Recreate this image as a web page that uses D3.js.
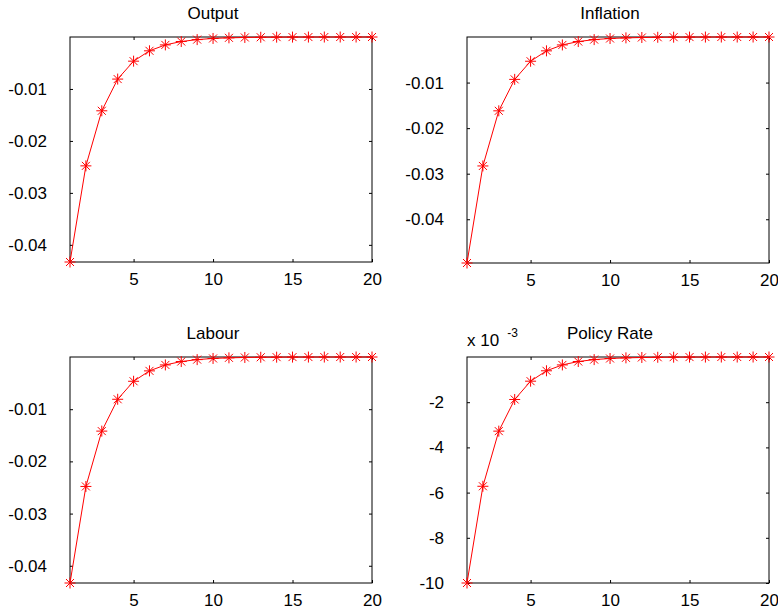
<!DOCTYPE html>
<html>
<head>
<meta charset="utf-8">
<script src="https://cdn.jsdelivr.net/npm/d3@7"></script>
<style>
  body { margin: 0; background: #fff; }
  text { font-family: "Liberation Sans", Arial, sans-serif; }
</style>
</head>
<body>
<svg width="778" height="615"></svg>
<script>
// impulse responses
const periods = [1, 2, 3, 4, 5, 6, 7, 8, 9, 10, 11, 12, 13, 14, 15, 16, 17, 18, 19, 20]
const output = [-0.0433, -0.0248, -0.0142, -0.0081, -0.00465, -0.00266, -0.00152, -0.00087, -0.0005, -0.00028,
    -0.00016, -0.00009, -0.00005, -0.00003, -0.000017, -0.00001, -0.000006, -0.000003, -0.000002, -0.000001]
const inflation = [-0.0496, -0.0283, -0.0162, -0.0093, -0.00532, -0.00304, -0.00174, -0.001, -0.00057, -0.00033,
    -0.00019, -0.00011, -0.00006, -0.000035, -0.00002, -0.000011, -0.000006, -0.000004, -0.000002, -0.000001]
const labour = [-0.0433, -0.0248, -0.0142, -0.0081, -0.00465, -0.00266, -0.00152, -0.00087, -0.0005, -0.00028,
    -0.00016, -0.00009, -0.00005, -0.00003, -0.000017, -0.00001, -0.000006, -0.000003, -0.000002, -0.000001]
const policyRate = [-0.01, -0.00572, -0.00328, -0.00188, -0.00107, -0.00061, -0.00035, -0.0002, -0.000115, -0.000066,
    -0.000038, -0.000022, -0.000012, -0.000007, -0.000004, -0.0000023, -0.0000013, -0.0000008, -0.0000004, -0.0000002]

const titles = ['Output', 'Inflation', 'Labour', 'Policy Rate']
const xTicks = [5, 10, 15, 20]
const yTicksOutput = [-0.04, -0.03, -0.02, -0.01]
const yTicksInflation = [-0.04, -0.03, -0.02, -0.01]
const yTicksLabour = [-0.04, -0.03, -0.02, -0.01]
const yTicksPolicy = [-0.01, -0.008, -0.006, -0.004, -0.002]

const svg = d3.select('svg')
const fontSize = 17

const panels = [
    { series: output, title: titles[0], ticks: yTicksOutput, fmt: d => d.toFixed(2), x0: 70, x1: 372, y0: 37, y1: 262 },
    { series: inflation, title: titles[1], ticks: yTicksInflation, fmt: d => d.toFixed(2), x0: 467, x1: 769, y0: 37, y1: 263 },
    { series: labour, title: titles[2], ticks: yTicksLabour, fmt: d => d.toFixed(2), x0: 70, x1: 372, y0: 357, y1: 583 },
    { series: policyRate, title: titles[3], ticks: yTicksPolicy, fmt: d => String(Math.round(d * 1000)), x0: 467, x1: 769, y0: 357, y1: 583, exp: true }
]

const star = 'M-5.5,0H5.5M0,-5.5V5.5M-4,-4L4,4M-4,4L4,-4'

const drawPanel = (p) => {
    const w = p.x1 - p.x0, h = p.y1 - p.y0
    const g = svg.append('g').attr('transform', `translate(${p.x0},${p.y0})`)

    const x = d3.scaleLinear().domain([1, 20]).range([0, w])
    const y = d3.scaleLinear().domain([d3.min(p.series), 0]).range([h, 0])

    g.append('rect')
        .attr('width', w).attr('height', h)
        .attr('fill', 'none').attr('stroke', '#000').attr('stroke-width', 1)

    const styleAxis = (sel) => {
        sel.select('.domain').remove()
        sel.selectAll('line').attr('stroke', '#000')
        sel.selectAll('text').attr('font-size', fontSize).attr('font-family', '"Liberation Sans", Arial, sans-serif').attr('fill', '#000')
    }

    g.append('g')
        .call(d3.axisLeft(y).tickValues(p.ticks).tickSize(-3).tickPadding(23).tickFormat(p.fmt))
        .call(styleAxis)
    g.append('g')
        .attr('transform', `translate(${w},0)`)
        .call(d3.axisRight(y).tickValues(p.ticks).tickSize(-3).tickFormat(''))
        .call(styleAxis)
    g.append('g')
        .attr('transform', `translate(0,${h})`)
        .call(d3.axisBottom(x).tickValues(xTicks).tickSize(-3).tickPadding(11))
        .call(styleAxis)
    g.append('g')
        .call(d3.axisTop(x).tickValues(xTicks).tickSize(-3).tickFormat(''))
        .call(styleAxis)

    g.append('text')
        .attr('x', w / 2 - 8).attr('y', -18)
        .attr('text-anchor', 'middle')
        .attr('font-size', fontSize)
        .text(p.title)

    if (p.exp) {
        const t = g.append('text').attr('x', 0).attr('y', -11).attr('font-size', fontSize)
        t.append('tspan').text('x 10')
        t.append('tspan').attr('dx', 8).attr('dy', -9).attr('font-size', 12).text('-3')
    }

    const line = d3.line().x((d, i) => x(periods[i])).y(d => y(d))
    g.append('path')
        .datum(p.series)
        .attr('d', line)
        .attr('fill', 'none').attr('stroke', '#ff0000').attr('stroke-width', 1)

    g.selectAll('.mk')
        .data(p.series)
        .enter().append('path')
        .attr('class', 'mk')
        .attr('transform', (d, i) => `translate(${x(periods[i])},${y(d)})`)
        .attr('d', star)
        .attr('fill', 'none').attr('stroke', '#ff0000').attr('stroke-width', 1)
}

panels.forEach(drawPanel)
</script>
</body>
</html>
